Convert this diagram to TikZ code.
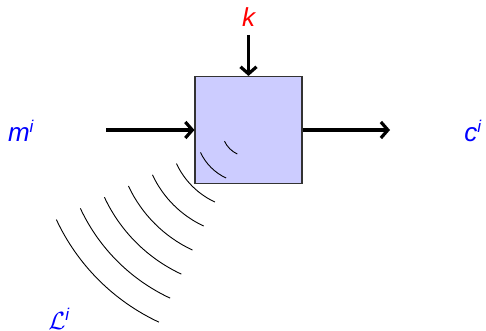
\documentclass[tikz,border=0pt]{standalone}
\usepackage{fontspec}
\setmainfont{Liberation Sans}
\usetikzlibrary{arrows.meta}
\begin{document}
\begin{tikzpicture}[x=1pt,y=-1pt,
  lab/.style={font=\fontsize{26}{30}\selectfont\itshape, inner sep=0pt},
  flow/.style={line width=3.4pt, -{Straight Barb[length=7pt,width=16pt,line width=3.2pt]}},
  wave/.style={line width=0.9pt},
  blockbox/.style={draw=black!80, line width=1.1pt, fill=blue!20, minimum size=107pt, inner sep=0pt}]
\useasboundingbox (0,0) rectangle (486,331);
\node[blockbox] (E) at (248.5,130) {};
\node[lab, text=blue] (m) at (21,131) {m\textsuperscript{\fontsize{17}{17}\selectfont i}};
\node[lab, text=blue] (c) at (473,131) {c\textsuperscript{\fontsize{17}{17}\selectfont i}};
\node[lab, text=red] (k) at (248.5,17) {k};
\node[lab, text=blue] (L) at (59,319) {$\mathcal{L}$\textsuperscript{\fontsize{17}{17}\selectfont i}};
\coordinate (inL) at (106,130);
\coordinate (outR) at (390,130);
\coordinate (inT) at (248.5,35);
\draw[flow] (inL) -- (E.west);
\draw[flow] (E.east) -- (outR);
\draw[flow] (inT) -- (E.north);
\foreach \r in {1,...,8}
  \draw[wave] (E.center) ++(155:{26.5*\r}) arc[start angle=155, end angle=115, radius={26.5*\r}];
\end{tikzpicture}
\end{document}
